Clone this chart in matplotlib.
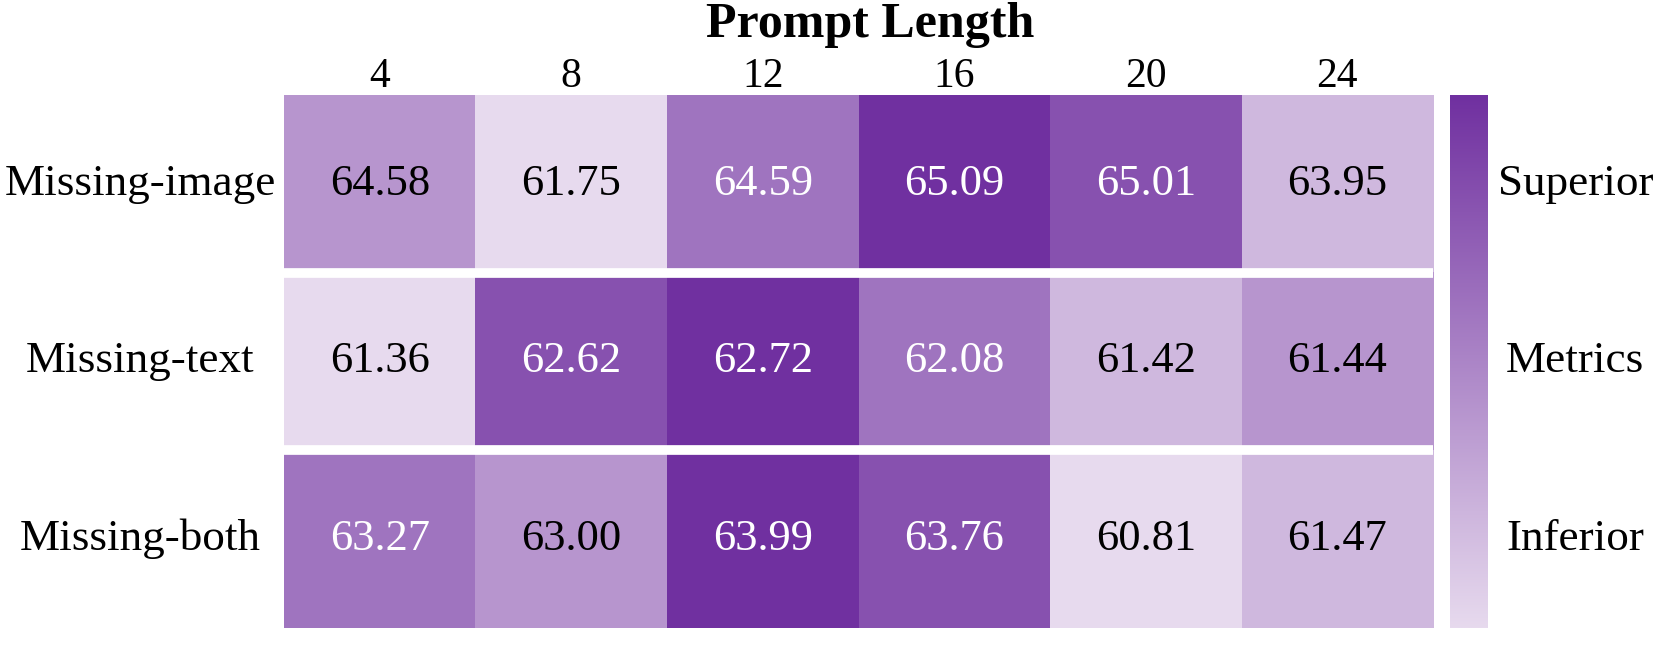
import numpy as np
import matplotlib.pyplot as plt
from matplotlib.colors import LinearSegmentedColormap
import matplotlib.transforms as mtransforms

plt.rcParams['font.family'] = ['Liberation Serif', 'DejaVu Serif']

prompt_lengths = ['4', '8', '12', '16', '20', '24']
settings = ['Missing-image', 'Missing-text', 'Missing-both']
missing_image = [64.58, 61.75, 64.59, 65.09, 65.01, 63.95]
missing_text = [61.36, 62.62, 62.72, 62.08, 61.42, 61.44]
missing_both = [63.27, 63.00, 63.99, 63.76, 60.81, 61.47]
bar_labels = ['Superior', 'Metrics', 'Inferior']

values = np.array([missing_image, missing_text, missing_both])
# colour by rank inside each row, spread evenly from 0 to 1
ranks = values.argsort(axis=1).argsort(axis=1) / (values.shape[1] - 1)

cmap = LinearSegmentedColormap.from_list('purp', ['#E7DAEE', '#7030A0'])

fig = plt.figure(figsize=(16.6, 6.47), dpi=100)
ax = fig.add_axes([0.1711, 0.0294, 0.6922, 0.8238])
cax = fig.add_axes([0.8735, 0.0294, 0.0223, 0.8238])

ax.imshow(ranks, cmap=cmap, vmin=0, vmax=1, aspect='auto', interpolation='nearest')
for y in np.arange(0.5, len(settings) - 1, 1):
    ax.axhline(y, color='white', lw=7)

for i in range(len(settings)):
    for j in range(len(prompt_lengths)):
        c = 'white' if ranks[i, j] >= 0.55 else 'black'
        ax.text(j, i, f'{values[i, j]:.2f}', ha='center', va='center', fontsize=32, color=c)

ax.xaxis.tick_top()
ax.set_xticks(range(len(prompt_lengths)))
ax.set_xticklabels(prompt_lengths, fontsize=30)
ax.tick_params(axis='x', length=0, pad=-1)
ax.set_yticks([])
fig.text(0.524, 0.9428, 'Prompt Length', fontsize=36, fontweight='bold', ha='center', va='baseline')
trans = mtransforms.blended_transform_factory(fig.transFigure, ax.transData)
for i, s in enumerate(settings):
    ax.text(0.0845, i, s, ha='center', va='center', fontsize=32.5, transform=trans)
for s in ax.spines.values():
    s.set_visible(False)

grad = np.linspace(1, 0, 256).reshape(-1, 1)
cax.imshow(grad, cmap=cmap, vmin=0, vmax=1, aspect='auto')
cax.set_xticks([])
cax.set_yticks([])
for s in cax.spines.values():
    s.set_visible(False)
for i, s in enumerate(bar_labels):
    ax.text(0.949, i, s, ha='center', va='center', fontsize=32.5, transform=trans)

fig.savefig('out.png', dpi=100)
